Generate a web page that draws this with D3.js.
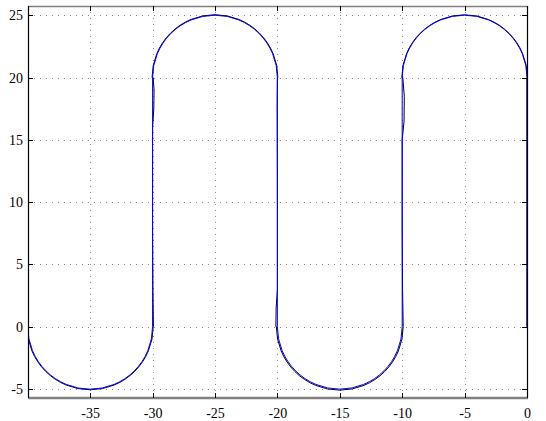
<!DOCTYPE html>
<html>
<head>
<meta charset="utf-8">
<script src="https://cdn.jsdelivr.net/npm/d3@7"></script>
<style>
  html, body { margin: 0; padding: 0; background: #fff; }
  svg { display: block; }
  text { font-family: "Liberation Serif", "DejaVu Serif", serif; font-size: 14px; fill: #000; }
</style>
</head>
<body>
<svg id="chart" width="546" height="421"></svg>
<script>
// ---- data ----
const xTicks = [-35, -30, -25, -20, -15, -10, -5, 0];
const yTicks = [-5, 0, 5, 10, 15, 20, 25];
const xDomain = [-39.98, 0];
const yDomain = [-5.72, 25.75];

// reference path: semicircles (radius 5) joined by straight runs
const arcCenterX = [-35, -25, -15, -5];
const arcCenterY = [0, 20, 0, 20];
const arcSide    = ["down", "up", "down", "up"];
const refRadius  = [5, 5, 5, 5];
const refRunX    = [[-30, -30], [-20, -20], [-10, -10], [0, 0]];
const refRunY    = [[0, 20], [20, 0], [0, 20], [20, 0]];

// tracked path (black): slightly wider arcs and small bumps on the runs
const trackRadius = [5.05, 5.04, 5.08, 5.03];
const trackRunX = [
  [-29.93, -29.97, -30.0, -30.0, -29.9, -29.88, -29.95],
  [-20.0, -20.02, -20.0, -20.0, -20.1, -20.12],
  [-9.92, -9.97, -10.0, -10.0, -9.85, -9.83, -9.95],
  [0, 0]
];
const trackRunY = [
  [0, 3, 8, 16, 17.5, 19, 20],
  [20, 18, 10, 3, 1.5, 0],
  [0, 3, 8, 15, 16.5, 18.5, 20],
  [20, 0]
];

// ---- layout ----
const L = 28, R = 527, T = 6, B = 398;
const svg = d3.select("#chart");
const x = d3.scaleLinear().domain(xDomain).range([L, R]);
const y = d3.scaleLinear().domain(yDomain).range([B, T]);

svg.append("defs").append("clipPath").attr("id", "clip")
  .append("rect").attr("x", L).attr("y", T).attr("width", R - L).attr("height", B - T);

// grid
const grid = svg.append("g");
grid.selectAll("line.gx").data(xTicks.filter(d => d !== 0)).enter().append("line")
  .attr("x1", d => Math.round(x(d)) + 0.5).attr("x2", d => Math.round(x(d)) + 0.5)
  .attr("y1", T).attr("y2", B)
  .attr("stroke", "#8a8a8a").attr("stroke-width", 1).attr("stroke-dasharray", "1,5");
grid.selectAll("line.gy").data(yTicks).enter().append("line")
  .attr("y1", d => Math.round(y(d)) + 0.5).attr("y2", d => Math.round(y(d)) + 0.5)
  .attr("x1", L).attr("x2", R)
  .attr("stroke", "#8a8a8a").attr("stroke-width", 1).attr("stroke-dasharray", "1,5");

// path builder
function buildPath(radii, runX, runY) {
  const p = d3.path();
  for (let i = 0; i < arcCenterX.length; i++) {
    const cx = x(arcCenterX[i]), cy = y(arcCenterY[i]);
    const r = x(arcCenterX[i] + radii[i]) - x(arcCenterX[i]);
    if (i === 0) p.moveTo(cx - r, cy);
    if (arcSide[i] === "down") p.arc(cx, cy, r, Math.PI, 0, true);
    else p.arc(cx, cy, r, Math.PI, 2 * Math.PI, false);
    const xs = runX[i], ys = runY[i];
    for (let k = 0; k < xs.length; k++) p.lineTo(x(xs[k]), y(ys[k]));
  }
  return p.toString();
}

const plot = svg.append("g").attr("clip-path", "url(#clip)");
plot.append("path").attr("d", buildPath(trackRadius, trackRunX, trackRunY))
  .attr("fill", "none").attr("stroke", "#000").attr("stroke-width", 1);
plot.append("path").attr("d", buildPath(refRadius, refRunX, refRunY))
  .attr("fill", "none").attr("stroke", "#0000ff").attr("stroke-width", 1);

// axes box
svg.append("line").attr("x1", L).attr("x2", R).attr("y1", T + 0.5).attr("y2", T + 0.5)
  .attr("stroke", "#808080").attr("stroke-width", 1.5);
svg.append("line").attr("x1", L).attr("x2", R + 1).attr("y1", B).attr("y2", B)
  .attr("stroke", "#808080").attr("stroke-width", 2.5);
svg.append("line").attr("x1", L + 0.5).attr("x2", L + 0.5).attr("y1", T).attr("y2", B)
  .attr("stroke", "#000").attr("stroke-width", 1.2);
svg.append("line").attr("x1", R + 0.5).attr("x2", R + 0.5).attr("y1", T).attr("y2", B)
  .attr("stroke", "#000").attr("stroke-width", 1.2);

// x axis ticks (bottom & top) and labels
const xAxisB = d3.axisBottom(x).tickValues(xTicks).tickSize(0).tickPadding(10).tickFormat(d3.format("d"));
const gxb = svg.append("g").attr("transform", `translate(0,${B})`).call(xAxisB);
gxb.select(".domain").remove();
gxb.selectAll("text").attr("font-family", "Liberation Serif").attr("font-size", 14).attr("fill", "#000")
  .text(d => d < 0 ? "-" + Math.abs(d) : d);
const tickMarks = svg.append("g");
tickMarks.selectAll("line.tb").data(xTicks).enter().append("line")
  .attr("x1", d => Math.round(x(d)) + 0.5).attr("x2", d => Math.round(x(d)) + 0.5)
  .attr("y1", B).attr("y2", B - 5).attr("stroke", "#000");
tickMarks.selectAll("line.tt").data(xTicks).enter().append("line")
  .attr("x1", d => Math.round(x(d)) + 0.5).attr("x2", d => Math.round(x(d)) + 0.5)
  .attr("y1", T).attr("y2", T + 5).attr("stroke", "#000");

// y axis
const yAxisL = d3.axisLeft(y).tickValues(yTicks).tickSize(0).tickPadding(5).tickFormat(d3.format("d"));
const gyl = svg.append("g").attr("transform", `translate(${L},0)`).call(yAxisL);
gyl.select(".domain").remove();
gyl.selectAll("text").attr("font-family", "Liberation Serif").attr("font-size", 14).attr("fill", "#000")
  .text(d => d < 0 ? "-" + Math.abs(d) : d);
tickMarks.selectAll("line.tl").data(yTicks).enter().append("line")
  .attr("y1", d => Math.round(y(d)) + 0.5).attr("y2", d => Math.round(y(d)) + 0.5)
  .attr("x1", L).attr("x2", L + 5).attr("stroke", "#000");
tickMarks.selectAll("line.tr").data(yTicks).enter().append("line")
  .attr("y1", d => Math.round(y(d)) + 0.5).attr("y2", d => Math.round(y(d)) + 0.5)
  .attr("x1", R).attr("x2", R - 5).attr("stroke", "#000");
</script>
</body>
</html>
